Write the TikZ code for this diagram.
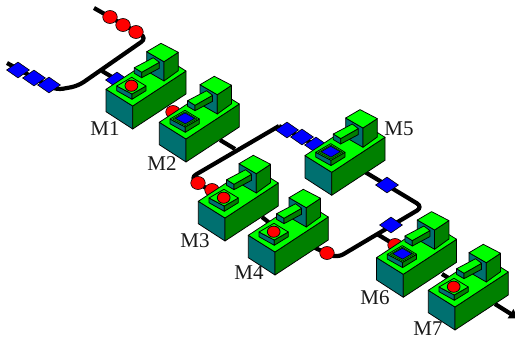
\documentclass[tikz,border=0pt]{standalone}
\usepackage{fontspec}
\setmainfont{Liberation Serif}
\usetikzlibrary{shapes.geometric,arrows.meta}
\definecolor{gtop}{RGB}{0,255,0}
\definecolor{gside}{RGB}{0,128,0}
\definecolor{tside}{RGB}{0,112,112}
\definecolor{pblue}{RGB}{0,0,255}
\definecolor{pred}{RGB}{255,0,0}
\tikzset{
  belt/.style={line width=4.2pt,black,line cap=butt,rounded corners=7pt},
  bluepart/.style={diamond,draw=black,line width=.6pt,fill=pblue,aspect=1.45,minimum width=23pt,minimum height=16pt,inner sep=0pt},
  redpart/.style={ellipse,draw=black,line width=.6pt,fill=pred,minimum width=14.5pt,minimum height=13pt,inner sep=0pt},
  face/.style={draw=black,line width=.75pt,line join=round},
  mlabel/.style={font=\fontsize{21}{21}\selectfont,text=black!90,inner sep=0pt}
}
% #1 = origin x, #2 = origin y (front bottom corner), #3 = part type 0 red, 1 blue
\newcommand{\machine}[3]{%
\begin{scope}[shift={(#1,#2)}]
  \fill[face,fill=tside] (-26.7,-39.7)--(0,-23)--(0,0)--(-26.7,-17.3)--cycle;
  \fill[face,fill=gside] (0,-23)--(53.3,-58)--(53.3,-35)--(0,0)--cycle;
  \fill[face,fill=gtop] (-26.7,-39.7)--(26.6,-74.7)--(53.3,-58)--(0,-23)--cycle;
  \fill[face,fill=tside] (14,-77.3)--(31.3,-67.3)--(31.3,-48)--(14,-58)--cycle;
  \fill[face,fill=gside] (31.3,-67.3)--(45.6,-76.7)--(45.6,-58.3)--(31.3,-48)--cycle;
  \fill[face,fill=gtop] (14,-77.3)--(28.3,-85.7)--(45.6,-76.7)--(31.3,-67.3)--cycle;
  \fill[face,fill=tside] (1.6,-61.3)--(9,-56.7)--(9,-51.3)--(1.6,-55.7)--cycle;
  \fill[face,fill=gside] (9,-56.7)--(26.6,-66.7)--(26.6,-60.7)--(9,-51.3)--cycle;
  \fill[face,fill=gtop] (1.6,-61.3)--(20.6,-71.3)--(26.6,-66.7)--(9,-56.7)--cycle;
  \fill[face,fill=tside] (-16,-43)--(-.7,-35)--(-.7,-29.7)--(-16,-38.3)--cycle;
  \fill[face,fill=gside] (-.7,-35)--(13.3,-43)--(13.3,-38.3)--(-.7,-29.7)--cycle;
  \fill[face,fill=gtop] (-16,-43)--(-1,-51.7)--(13.3,-43)--(-.7,-35)--cycle;
  \ifnum#3=0
    \fill[face,fill=pred] (-1.3,-43.3) ellipse (6.4 and 5.6);
  \else
    \fill[draw=black,line width=.4pt,fill=gside] (-13.5,-43)--(-1,-50.2)--(11,-43)--(-.7,-36.2)--cycle;
    \fill[draw=black,line width=.5pt,fill=pblue] (-10.5,-43.6)--(-1,-49)--(8.5,-43.6)--(-.7,-38.2)--cycle;
  \fi
\end{scope}}
\begin{document}
\begin{tikzpicture}[x=1pt,y=-1pt]
\useasboundingbox (0,0) rectangle (515,340);
% way points
\coordinate (a0) at (94,8);
\coordinate (a1) at (147,38);
\coordinate (a2) at (78,86);
\coordinate (a3) at (56,90);
\coordinate (a4) at (7,63);
\coordinate (j1) at (102,71);
\coordinate (m1in) at (122,83);
\coordinate (m2out) at (220,140);
\coordinate (j2) at (235,149);
\coordinate (b0) at (279,126);
\coordinate (b1) at (190,178);
\coordinate (m3in) at (222,198);
\coordinate (m5in) at (325,150);
\coordinate (m3out) at (262,217);
\coordinate (m4in) at (272,225);
\coordinate (m4out) at (313,247);
\coordinate (c0) at (337,258);
\coordinate (c1) at (423,207);
\coordinate (m5out) at (365,172);
\coordinate (j3) at (377,234);
\coordinate (m6in) at (400,248);
\coordinate (m6out) at (442,274);
\coordinate (m7in) at (455,282);
\coordinate (m7out) at (495,304);
\coordinate (endp) at (519,319);
% belts
\draw[belt] (a0)--(a1)--(a2)--(a3)--(a4);
\draw[belt] (j1)--(m1in);
\draw[belt] (m2out)--(j2);
\draw[belt] (b0)--(b1)--(m3in);
\draw[belt] (b0)--(m5in);
\draw[belt] (m3out)--(m4in);
\draw[belt] (m4out)--(c0)--(c1)--(m5out);
\draw[belt] (j3)--(m6in);
\draw[belt] (m6out)--(m7in);
\draw[line width=4.2pt,-{Latex[length=10pt,width=12pt]}] (m7out)--(endp);
% parts on the belts
\node[redpart] (r1) at (110,17) {};
\node[redpart] (r2) at (123,25) {};
\node[redpart] (r3) at (136,32) {};
\node[bluepart] (b1p) at (49,85) {};
\node[bluepart] (b2p) at (34,78) {};
\node[bluepart] (b3p) at (18,70) {};
\node[bluepart] (b4p) at (117,80) {};
\node[redpart] (r4) at (173,112) {};
\node[redpart] (r5) at (198,183) {};
\node[redpart] (r6) at (212,190) {};
\node[bluepart] (b5p) at (287,130) {};
\node[bluepart] (b6p) at (302,137) {};
\node[bluepart] (b7p) at (316,145) {};
\node[redpart] (r7) at (327,253) {};
\node[bluepart] (b8p) at (387,185) {};
\node[bluepart] (b9p) at (391,225) {};
\node[redpart] (r8) at (395,245) {};
% machines
\machine{132.7}{129}{0}
\machine{186}{162}{1}
\machine{331.7}{195.3}{1}
\machine{225}{241}{0}
\machine{275}{275}{0}
\machine{403.3}{297.3}{1}
\machine{455}{330}{0}
% labels
\node[mlabel] (M1) at (105,129) {M1};
\node[mlabel] (M2) at (162,164) {M2};
\node[mlabel] (M3) at (195,241) {M3};
\node[mlabel] (M4) at (249,273) {M4};
\node[mlabel] (M5) at (399,129) {M5};
\node[mlabel] (M6) at (375,298) {M6};
\node[mlabel] (M7) at (428,328.5) {M7};
\end{tikzpicture}
\end{document}
